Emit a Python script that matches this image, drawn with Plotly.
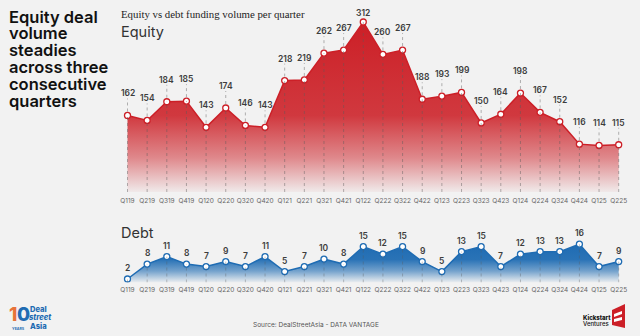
import plotly.graph_objects as go

quarters = ["Q119","Q219","Q319","Q419","Q120","Q220","Q320","Q420","Q121","Q221","Q321","Q421",
            "Q122","Q222","Q322","Q422","Q123","Q223","Q323","Q423","Q124","Q224","Q324","Q424","Q125","Q225"]
equity = [162,154,184,185,143,174,146,143,218,219,262,267,312,260,267,188,193,199,150,164,198,167,152,116,114,115]
debt = [2,8,11,8,7,9,7,11,5,7,10,8,15,12,15,9,5,13,15,7,12,13,13,16,7,9]

BG = "#f2f2f2"
RED = "#cc1f27"
BLUE = "#1f6cb3"
W, H = 640, 336

idx = list(range(len(quarters)))
px_per = (618.7 - 127.5) / 25
xmin = -127.5 / px_per
xmax = 25 + (W - 618.7) / px_per

EQ_MIN, EQ_MAX = 39.2, 347.3
DB_MIN, DB_MAX = 0.6, 22.5

fig = go.Figure()

fig.add_trace(go.Scatter(
    x=idx, y=equity, xaxis="x", yaxis="y", mode="lines+markers",
    line=dict(color=RED, width=1.5),
    marker=dict(size=6, color="white", line=dict(color=RED, width=1.3)),
    fill="tozeroy",
    fillgradient=dict(type="vertical", start=EQ_MIN, stop=312,
                      colorscale=[[0, "rgba(204,31,38,0.04)"], [0.2, "rgba(204,31,38,0.5)"],
                                  [0.45, "rgba(204,31,38,0.88)"], [1, "rgba(204,31,38,1)"]]),
    hoverinfo="skip", showlegend=False))

fig.add_trace(go.Scatter(
    x=idx, y=debt, xaxis="x2", yaxis="y2", mode="lines+markers",
    line=dict(color=BLUE, width=1.5),
    marker=dict(size=6, color="white", line=dict(color=BLUE, width=1.3)),
    fill="tozeroy",
    fillgradient=dict(type="vertical", start=DB_MIN, stop=16,
                      colorscale=[[0, "rgba(31,108,179,0.03)"], [0.3, "rgba(31,108,179,0.6)"],
                                  [0.6, "rgba(31,108,179,0.95)"], [1, "rgba(31,108,179,1)"]]),
    hoverinfo="skip", showlegend=False))

shapes = []
annotations = []
DOT = "rgba(90,90,90,0.45)"
for i, v in zip(idx, equity):
    shapes.append(dict(type="line", xref="x", yref="y", x0=i, x1=i, y0=EQ_MIN, y1=v,
                       line=dict(color=DOT, width=1, dash="dot"), layer="above"))
    ys = 22 if v != 312 else 9
    if v != 312:
        shapes.append(dict(type="line", xref="x", yref="y", ysizemode="pixel", yanchor=v,
                           x0=i, x1=i, y0=4, y1=17, line=dict(color=DOT, width=1, dash="dot"), layer="above"))
    annotations.append(dict(x=i, y=v, xref="x", yref="y", text=str(v), showarrow=False, yshift=ys,
                            font=dict(family="Inter", size=8.5, color="#3d3d3d", weight=600)))
for i, v in zip(idx, debt):
    shapes.append(dict(type="line", xref="x2", yref="y2", x0=i, x1=i, y0=DB_MIN, y1=v,
                       line=dict(color="rgba(90,90,90,0.35)", width=1, dash="dot"), layer="above"))
    annotations.append(dict(x=i, y=v, xref="x2", yref="y2", text=str(v), showarrow=False, yshift=11,
                            font=dict(family="Inter", size=8.5, color="#3d3d3d", weight=600)))

def px(xp, yp):
    return xp / W, 1 - yp / H

title_lines = ["Equity deal", "volume", "steadies", "across three", "consecutive", "quarters"]
title_y = [16.5, 33.3, 50.2, 67.2, 84.2, 101.2]
for t, yy in zip(title_lines, title_y):
    xx, yv = px(8, yy)
    annotations.append(dict(x=xx, y=yv, xref="paper", yref="paper", text=t, showarrow=False,
                            xanchor="left", yanchor="middle", borderpad=0,
                            font=dict(family="Inter", size=16.5, color="#111111", weight=600)))

def txt(t, x, y, size, color="#333", family="Inter", weight=400, xanchor="left", style="normal"):
    xx, yv = px(x, y)
    annotations.append(dict(x=xx, y=yv, xref="paper", yref="paper", text=t, showarrow=False,
                            xanchor=xanchor, yanchor="middle", borderpad=0,
                            font=dict(family=family, size=size, color=color, weight=weight, style=style)))

txt("Equity vs debt funding volume per quarter", 120, 14, 10.8, "#222", "Liberation Serif", 400)
txt("Equity", 120, 31, 14.5, "#333")
txt("Debt", 120, 232, 14.5, "#333")
txt("Source: DealStreetAsia - DATA VANTAGE", 316, 324.5, 6.5, "#555", xanchor="center")

# DealStreetAsia logo
txt("1", 8, 314, 19, "#e8733a", weight=800)
txt("0", 15.5, 314, 19, "#1f6cb3", weight=800)
txt("YEARS", 11, 329, 3.6, "#1f6cb3", weight=700)
txt("Deal", 29, 309, 7.6, "#1f6cb3", weight=800)
txt("street", 28, 317.5, 7.6, "#1f6cb3", weight=800, style="italic")
txt("Asia", 29, 326, 7.6, "#1f6cb3", weight=800)

# Kickstart logo
txt("Kickstart", 582, 317, 6, "#111", weight=800)
txt("Ventures", 582, 323.5, 6, "#111", weight=500)
shapes.append(dict(type="path", xref="paper", yref="paper",
                   path="M {} {} L {} {} L {} {} L {} {} Z".format(*px(612, 310), *px(625, 304), *px(625, 328), *px(612, 325)),
                   fillcolor=RED, line=dict(width=0)))
shapes.append(dict(type="path", xref="paper", yref="paper",
                   path="M {} {} L {} {} L {} {} L {} {} Z".format(*px(614, 314), *px(622, 311), *px(622, 314), *px(614, 317)),
                   fillcolor="white", line=dict(width=0)))
shapes.append(dict(type="path", xref="paper", yref="paper",
                   path="M {} {} L {} {} L {} {} L {} {} Z".format(*px(614, 319), *px(622, 317), *px(622, 320), *px(614, 322)),
                   fillcolor="white", line=dict(width=0)))

eq_bottom, db_bottom, db_top = 192, 282.5, 228
tickfont = dict(family="Inter", size=6.5, color="#666")
fig.update_layout(
    width=W, height=H, margin=dict(l=0, r=0, t=0, b=0),
    paper_bgcolor=BG, plot_bgcolor="rgba(0,0,0,0)",
    xaxis=dict(domain=[0, 1], range=[xmin, xmax], tickvals=idx, ticktext=quarters, anchor="y",
               showgrid=False, zeroline=False, showline=False, ticks="outside", ticklen=2,
               tickcolor="rgba(0,0,0,0)", tickfont=tickfont, tickangle=0, fixedrange=True),
    yaxis=dict(domain=[1 - eq_bottom / H, 1], range=[EQ_MIN, EQ_MAX], visible=False, anchor="x"),
    xaxis2=dict(domain=[0, 1], range=[xmin, xmax], tickvals=idx, ticktext=quarters, anchor="y2",
                showgrid=False, zeroline=False, showline=False, ticks="outside", ticklen=1,
                tickcolor="rgba(0,0,0,0)", tickfont=tickfont, tickangle=0),
    yaxis2=dict(domain=[1 - db_bottom / H, 1 - db_top / H], range=[DB_MIN, DB_MAX], visible=False, anchor="x2"),
    shapes=shapes, annotations=annotations,
)

fig.write_html("out.html")
